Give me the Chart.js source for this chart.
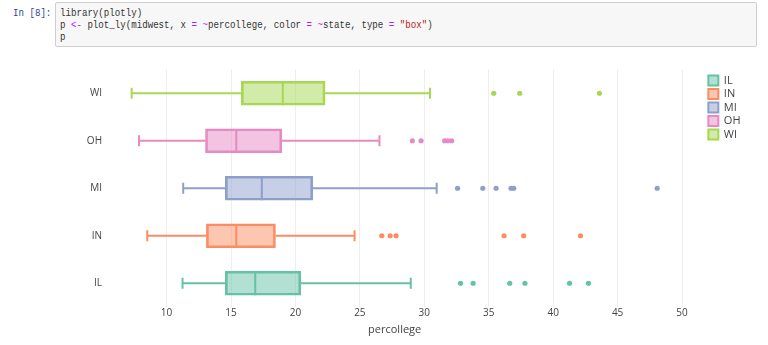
<!DOCTYPE html>
<html>
<head>
<meta charset="utf-8">
<script src="https://cdn.jsdelivr.net/npm/chart.js@4.4.1/dist/chart.umd.min.js"></script>
<style>
  body { margin: 0; background: #fff; width: 768px; height: 345px; overflow: hidden; position: relative; }
  .prompt, .code { font-family: "Liberation Mono", monospace; font-size: 11px; line-height: 12.3px; white-space: pre; }
  .prompt { position: absolute; left: 13px; top: 6.5px; color: #303f9f; transform: scaleX(0.83); transform-origin: 0 0; }
  .cell { position: absolute; left: 55px; top: 2px; width: 700px; height: 43px; background: #f7f7f7; border: 1px solid #cfcfcf; border-radius: 2px; }
  .code { position: absolute; left: 4px; top: 3.5px; color: #333; transform: scaleX(0.83); transform-origin: 0 0; }
  .op { color: #aa22ff; }
  .str { color: #ba2121; }
  #wrap { position: absolute; left: 0; top: 55px; width: 768px; height: 290px; }
</style>
</head>
<body>
<div class="prompt">In [8]:</div>
<div class="cell"><div class="code">library(plotly)
p <span class="op">&lt;-</span> plot_ly(midwest, x <span class="op">=</span> <span class="op">~</span>percollege, color <span class="op">=</span> <span class="op">~</span>state, type <span class="op">=</span> <span class="str">"box"</span>)
p</div></div>
<div id="wrap"><canvas id="boxChart"></canvas></div>
<script>
// midwest percollege by state
const states = ['IL', 'IN', 'MI', 'OH', 'WI'];
const colors = ['#66c2a5', '#fc8d62', '#8da0cb', '#e78ac3', '#a6d854'];
const lowerFence = [11.24, 8.50, 11.29, 7.86, 7.29];
const q1 = [14.56, 13.09, 14.56, 13.02, 15.80];
const median = [16.88, 15.41, 17.39, 15.41, 19.02];
const q3 = [20.41, 18.45, 21.34, 18.94, 22.30];
const upperFence = [28.95, 24.59, 30.96, 26.52, 30.44];
const outliersIL = [32.81, 33.79, 36.63, 37.81, 41.27, 42.74];
const outliersIN = [26.70, 27.35, 27.81, 36.19, 37.71, 42.12];
const outliersMI = [32.58, 34.54, 35.57, 36.73, 36.94, 48.07];
const outliersOH = [29.07, 29.75, 31.58, 31.83, 32.12];
const outliersWI = [35.39, 37.40, 43.59];
const outliers = [outliersIL, outliersIN, outliersMI, outliersOH, outliersWI];
const xTicks = [10, 15, 20, 25, 30, 35, 40, 45, 50];

Chart.defaults.font.family = "'Open Sans', sans-serif";
Chart.defaults.color = '#444';

function fade(hex, a) {
  const n = parseInt(hex.slice(1), 16);
  return `rgba(${n >> 16}, ${(n >> 8) & 255}, ${n & 255}, ${a})`;
}

const capHalf = 0.118;
const boxHalf = 0.25;
const gap = { x: null, y: null };

const datasets = [];
// boxes first so the legend picks them up in order
states.forEach((s, i) => {
  datasets.push({
    type: 'bar', label: s, indexAxis: 'y', grouped: false,
    data: [{ x: [q1[i], q3[i]], y: i }],
    backgroundColor: fade(colors[i], 0.5), borderColor: colors[i],
    borderWidth: 2, borderSkipped: false, barThickness: 24, order: 3
  });
});
// whiskers, caps and median
states.forEach((s, i) => {
  datasets.push({
    type: 'line', label: s + ' whiskers',
    data: [
      { x: lowerFence[i], y: i - capHalf }, { x: lowerFence[i], y: i + capHalf }, gap,
      { x: lowerFence[i], y: i }, { x: q1[i], y: i }, gap,
      { x: q3[i], y: i }, { x: upperFence[i], y: i }, gap,
      { x: upperFence[i], y: i - capHalf }, { x: upperFence[i], y: i + capHalf }, gap,
      { x: median[i], y: i - boxHalf }, { x: median[i], y: i + boxHalf }
    ],
    borderColor: colors[i], borderWidth: 2, pointRadius: 0, fill: false,
    spanGaps: false, order: 2
  });
});
// outlier points
states.forEach((s, i) => {
  datasets.push({
    type: 'scatter', label: s + ' outliers',
    data: outliers[i].map(v => ({ x: v, y: i })),
    backgroundColor: colors[i], borderWidth: 0, pointRadius: 2.6, order: 1
  });
});

new Chart(document.getElementById('boxChart'), {
  type: 'bar',
  data: { datasets },
  options: {
    responsive: true,
    maintainAspectRatio: false,
    animation: false,
    layout: { padding: { top: 14.5, right: 17.5, left: 0, bottom: 0 } },
    plugins: {
      tooltip: { enabled: false },
      legend: {
        position: 'right',
        align: 'start',
        title: { display: true, text: '', font: { size: 1 }, padding: 0.9 },
        labels: {
          boxWidth: 10, boxHeight: 10, padding: 2.5,
          font: { size: 11 }, color: '#444',
          filter: item => item.datasetIndex < states.length
        }
      }
    },
    scales: {
      x: {
        type: 'linear', position: 'bottom', min: 5.3, max: 50.1, offset: false,
        afterBuildTicks: axis => { axis.ticks = xTicks.map(v => ({ value: v })); },
        afterFit: axis => { axis.height = 38; },
        grid: { color: '#eeeeee', drawTicks: false, offset: false },
        border: { display: false },
        ticks: { padding: 0, font: { size: 10 }, color: '#444' },
        title: { display: true, text: 'percollege', font: { size: 11 }, color: '#444', padding: { top: 0, bottom: 9 } }
      },
      y: {
        type: 'linear', position: 'left', min: -0.5, max: 4.5, offset: false,
        afterBuildTicks: axis => { axis.ticks = states.map((s, i) => ({ value: i })); },
        afterFit: axis => { axis.width = 106; },
        grid: { display: false, drawTicks: false, offset: false },
        border: { display: false },
        ticks: { padding: 4, font: { size: 10 }, color: '#444', callback: v => states[v] }
      },
      yRight: {
        type: 'linear', position: 'right', display: true, offset: false,
        afterFit: axis => { axis.width = 22.5; },
        grid: { display: false, drawTicks: false },
        border: { display: false },
        ticks: { display: false }
      }
    }
  }
});
</script>
</body>
</html>
